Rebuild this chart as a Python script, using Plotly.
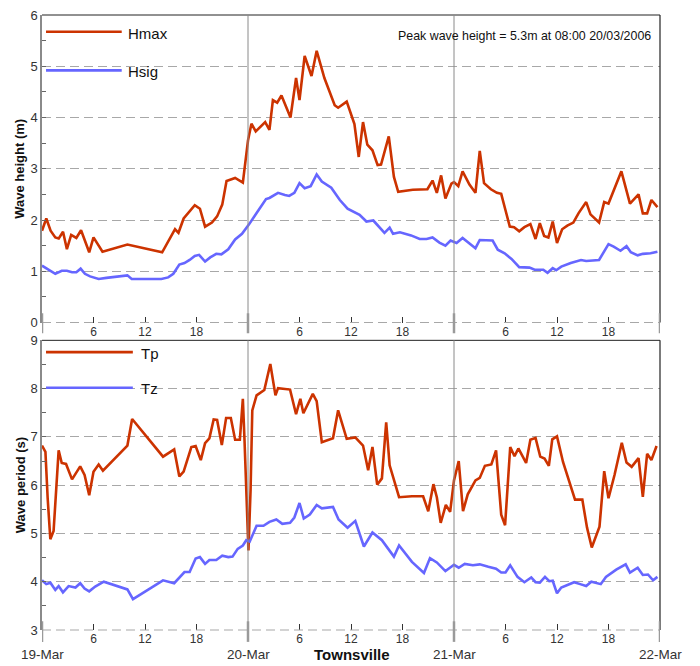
import pandas as pd
import plotly.graph_objects as go
from plotly.subplots import make_subplots

# ---------------- data (hours since 19-Mar-2006 00:00) ----------------
hmax_hours = [0.0, 0.5, 1.0, 1.55, 1.95, 2.45, 2.9, 3.4, 4.0, 4.55, 5.5, 6.0, 7.05, 9.95, 14.0,
              15.5, 15.9, 16.5, 17.8, 18.4, 19.0, 19.8, 20.4, 21.0, 21.5, 22.5, 23.4, 24.0, 24.4,
              24.9, 26.0, 26.5, 26.9, 27.4, 27.9, 28.95, 29.6, 30.0, 30.6, 31.4, 32.0, 32.9, 34.1,
              34.5, 35.5, 36.4, 36.9, 37.4, 37.9, 38.5, 39.1, 39.5, 40.4, 41.0, 41.5, 43.2, 44.9,
              45.5, 46.0, 46.5, 47.0, 47.7, 48.0, 48.5, 49.0, 49.8, 50.5, 51.0, 51.5, 52.3, 53.0,
              53.5, 54.0, 54.5, 55.0, 55.6, 56.2, 56.9, 57.5, 58.0, 58.5, 59.0, 59.5, 60.0, 60.6,
              61.2, 61.9, 62.5, 63.4, 63.9, 64.9, 65.5, 66.0, 67.5, 68.5, 69.5, 70.0, 70.5, 71.0, 71.7]
hmax_values = [1.79, 2.03, 1.79, 1.66, 1.64, 1.77, 1.43, 1.71, 1.65, 1.80, 1.37, 1.66, 1.38, 1.52, 1.37,
               1.82, 1.75, 2.03, 2.29, 2.22, 1.87, 1.95, 2.07, 2.30, 2.76, 2.82, 2.73, 3.55, 3.88,
               3.73, 3.91, 3.76, 4.34, 4.29, 4.43, 4.00, 4.77, 4.34, 5.20, 4.81, 5.30, 4.77, 4.24,
               4.19, 4.31, 3.87, 3.23, 3.91, 3.47, 3.36, 3.07, 3.08, 3.63, 2.84, 2.55, 2.59, 2.60,
               2.77, 2.53, 2.87, 2.42, 2.71, 2.74, 2.66, 2.95, 2.69, 2.53, 3.35, 2.72, 2.60, 2.53,
               2.51, 2.19, 1.87, 1.86, 1.78, 1.86, 1.92, 1.63, 1.94, 1.69, 1.66, 1.97, 1.55, 1.82,
               1.89, 1.95, 2.13, 2.35, 2.11, 1.95, 2.35, 2.32, 2.95, 2.32, 2.50, 2.13, 2.13, 2.39, 2.25]

hsig_hours = [0.0, 0.6, 1.55, 2.3, 2.9, 3.5, 4.0, 4.5, 5.0, 5.6, 6.6, 7.5, 9.95, 10.45, 13.9, 14.7,
              15.3, 16.0, 16.6, 17.2, 17.8, 18.3, 19.0, 19.6, 20.3, 20.9, 21.7, 22.5, 23.3, 24.1,
              25.0, 26.1, 26.5, 27.5, 28.3, 28.8, 29.4, 30.0, 30.6, 31.3, 32.0, 32.6, 33.7, 34.7,
              35.6, 37.0, 37.8, 38.6, 39.9, 40.5, 40.9, 41.7, 43.0, 44.0, 44.8, 45.5, 46.3, 47.0,
              47.6, 48.3, 49.0, 49.7, 50.5, 51.0, 52.5, 53.1, 53.9, 54.7, 55.6, 56.8, 57.4, 58.4,
              58.9, 59.5, 59.9, 60.5, 61.6, 62.8, 63.4, 64.9, 66.0, 66.6, 67.4, 68.1, 68.6, 69.4,
              70.0, 70.9, 71.7]
hsig_values = [1.11, 1.05, 0.95, 1.01, 1.01, 0.98, 0.98, 1.05, 0.95, 0.90, 0.85, 0.87, 0.92, 0.85, 0.85, 0.88,
               0.95, 1.13, 1.16, 1.22, 1.30, 1.32, 1.19, 1.27, 1.34, 1.33, 1.43, 1.62, 1.73, 1.91,
               2.14, 2.41, 2.43, 2.53, 2.49, 2.47, 2.53, 2.72, 2.62, 2.66, 2.89, 2.75, 2.63, 2.39,
               2.22, 2.10, 1.97, 1.99, 1.75, 1.85, 1.73, 1.76, 1.70, 1.63, 1.63, 1.66, 1.56, 1.50,
               1.60, 1.55, 1.65, 1.55, 1.45, 1.61, 1.60, 1.42, 1.35, 1.24, 1.08, 1.07, 1.03, 1.03,
               0.97, 1.06, 1.02, 1.09, 1.16, 1.22, 1.20, 1.22, 1.53, 1.48, 1.40, 1.49, 1.37, 1.31,
               1.34, 1.35, 1.38]

tp_hours = [0.0, 0.4, 0.66, 0.97, 1.35, 1.67, 1.94, 2.3, 2.8, 3.5, 4.45, 4.96, 5.5, 6.0, 6.6, 7.1,
            9.95, 10.5, 14.1, 15.4, 16.0, 16.5, 17.4, 17.9, 18.5, 19.0, 19.5, 20.0, 20.4, 20.95,
            21.45, 22.0, 22.5, 23.05, 23.4, 23.6, 23.85, 24.05, 24.3, 24.5, 25.0, 25.9, 26.6, 27.2,
            27.5, 28.9, 29.6, 30.1, 30.45, 31.55, 32.0, 32.6, 33.9, 34.5, 35.5, 36.5, 37.4, 38.0,
            38.5, 39.05, 39.6, 40.1, 40.5, 41.6, 43.1, 44.4, 45.0, 45.6, 46.0, 46.45, 47.05, 47.55,
            48.0, 48.55, 49.05, 49.6, 50.5, 51.0, 51.6, 52.35, 52.9, 53.5, 53.95, 54.55, 55.05,
            55.5, 56.4, 56.9, 57.5, 58.05, 58.55, 59.05, 59.45, 60.0, 60.7, 61.4, 62.1, 62.95,
            63.5, 64.05, 64.95, 65.5, 66.0, 66.7, 67.55, 68.1, 68.7, 69.5, 70.0, 70.5, 71.0, 71.6]
tp_values = [6.82, 6.69, 5.73, 4.88, 5.05, 6.07, 6.72, 6.46, 6.44, 6.12, 6.39, 6.21, 5.79, 6.28, 6.43, 6.30,
             6.82, 7.37, 6.59, 6.74, 6.18, 6.28, 6.79, 6.81, 6.52, 6.87, 6.97, 7.36, 7.35, 6.83,
             7.39, 7.39, 6.94, 6.94, 7.79, 6.90, 5.65, 4.65, 5.90, 7.55, 7.86, 7.97, 8.51, 7.86,
             8.01, 7.98, 7.47, 7.79, 7.49, 7.89, 7.74, 6.89, 6.97, 7.55, 6.96, 6.99, 6.82, 6.31,
             6.79, 6.01, 6.14, 7.30, 6.41, 5.75, 5.77, 5.77, 5.46, 6.02, 5.75, 5.22, 5.59, 5.45,
             6.10, 6.50, 5.46, 5.81, 6.10, 6.15, 6.40, 6.43, 6.72, 5.39, 5.17, 6.79, 6.60,
             6.76, 6.46, 6.94, 6.98, 6.59, 6.55, 6.40, 6.95, 7.01, 6.48, 6.07, 5.70, 5.70,
             5.12, 4.71, 5.14, 6.29, 5.73, 6.21, 6.88, 6.47, 6.38, 6.56, 5.76, 6.65, 6.52, 6.81]

tz_hours = [0.0, 0.5, 0.97, 1.55, 1.94, 2.44, 3.1, 3.9, 4.45, 4.96, 5.5, 6.2, 7.2, 9.95, 10.6, 14.1,
            15.4, 16.6, 17.2, 17.9, 18.4, 19.0, 19.5, 20.3, 21.0, 21.7, 22.2, 22.8, 23.4, 23.8,
            24.2, 25.0, 25.8, 26.5, 27.3, 28.0, 28.9, 29.4, 30.0, 30.5, 31.2, 32.0, 32.6, 33.9,
            34.55, 35.6, 36.5, 37.5, 38.5, 39.6, 41.0, 41.6, 43.1, 44.5, 45.2, 46.0, 47.0, 48.0,
            48.55, 49.25, 50.2, 51.0, 52.0, 52.9, 53.5, 54.0, 54.55, 55.4, 56.2, 57.0, 57.5, 58.0,
            58.6, 59.1, 59.5, 60.0, 60.5, 61.3, 62.0, 62.7, 63.4, 64.0, 64.5, 65.1, 65.7, 66.9,
            68.0, 68.5, 69.4, 70.0, 70.6, 71.2, 71.7]
tz_values = [4.03, 3.95, 3.98, 3.83, 3.91, 3.78, 3.91, 3.88, 3.97, 3.86, 3.80, 3.90, 4.00, 3.84, 3.64, 4.03,
             3.97, 4.20, 4.20, 4.48, 4.51, 4.37, 4.45, 4.45, 4.54, 4.51, 4.52, 4.68, 4.75, 4.86,
             4.83, 5.16, 5.16, 5.24, 5.29, 5.20, 5.22, 5.33, 5.63, 5.31, 5.39, 5.59, 5.52, 5.55,
             5.29, 5.12, 5.26, 4.73, 5.02, 4.86, 4.52, 4.75, 4.41, 4.18, 4.49, 4.40, 4.22, 4.35,
             4.29, 4.37, 4.34, 4.36, 4.31, 4.27, 4.19, 4.19, 4.34, 4.10, 3.99, 4.09, 3.99, 3.98,
             4.10, 4.01, 4.02, 3.76, 3.88, 3.93, 3.99, 3.95, 3.91, 4.00, 3.98, 3.95, 4.10, 4.25,
             4.36, 4.19, 4.29, 4.14, 4.15, 4.03, 4.10]

start_date = "2006-03-19"
day_labels = ["19-Mar", "20-Mar", "21-Mar", "22-Mar"]
hour_ticks = [6, 12, 18]
peak_text = "Peak wave height = 5.3m at 08:00 20/03/2006"

# ---------------- styling ----------------
RED = "#CC3300"
BLUE = "#6666FF"
NARROW = "Liberation Sans Narrow, Arial Narrow, Liberation Sans, Arial, sans-serif"
ARIAL = "Liberation Sans, Arial, sans-serif"
GRID = "#a8a8a8"
TOP_DOMAIN = [0.5, 1.0]
BOTTOM_DOMAIN = [0.0, 0.471]

base = pd.Timestamp(start_date)


def to_time(hours):
    return base + pd.to_timedelta(hours, unit="h")


days = [base + pd.Timedelta(days=i) for i in range(len(day_labels))]
tickvals, ticktext = [], []
for d in days[:-1]:
    for h in hour_ticks:
        tickvals.append(d + pd.Timedelta(hours=h))
        ticktext.append(str(h))

fig = make_subplots(rows=2, cols=1, vertical_spacing=0.029)

fig.add_trace(go.Scatter(x=to_time(hmax_hours), y=hmax_values, mode="lines", name="Hmax",
                         line=dict(color=RED, width=2.6)), row=1, col=1)
fig.add_trace(go.Scatter(x=to_time(hsig_hours), y=hsig_values, mode="lines", name="Hsig",
                         line=dict(color=BLUE, width=2.6)), row=1, col=1)
fig.add_trace(go.Scatter(x=to_time(tp_hours), y=tp_values, mode="lines", name="Tp",
                         line=dict(color=RED, width=2.6)), row=2, col=1)
fig.add_trace(go.Scatter(x=to_time(tz_hours), y=tz_values, mode="lines", name="Tz",
                         line=dict(color=BLUE, width=2.6)), row=2, col=1)

xcommon = dict(range=[days[0], days[-1]], tickmode="array", tickvals=tickvals, ticktext=ticktext,
               ticks="inside", ticklen=6, tickcolor="#333", showgrid=False, showline=False,
               zeroline=False, tickfont=dict(family=NARROW, size=12, color="#333"))
ycommon = dict(dtick=1, ticks="inside", ticklen=4, tickcolor="#666", showgrid=True,
               gridcolor=GRID, griddash="9px,5px", gridwidth=1, zeroline=False,
               showline=True, linecolor="#8a8a8a", linewidth=1.5,
               tickfont=dict(family=NARROW, size=13, color="#333"),
               minor=dict(dtick=0.5, ticks="inside", ticklen=4, tickcolor="#666", showgrid=False))

fig.update_xaxes(**xcommon)
fig.update_yaxes(**ycommon)
fig.update_yaxes(range=[0, 6], row=1, col=1)
fig.update_yaxes(range=[3, 9], row=2, col=1)
fig.update_layout(yaxis=dict(domain=TOP_DOMAIN), yaxis2=dict(domain=BOTTOM_DOMAIN))

shapes = []
for xr, yr, dom in (("x", "y", TOP_DOMAIN), ("x2", "y2", BOTTOM_DOMAIN)):
    ydom = yr + " domain"
    # dashed baseline grid (bottom edge) and frame, in paper coords (unclipped)
    shapes.append(dict(type="line", xref="paper", yref="paper", x0=0, x1=1, y0=dom[0], y1=dom[0],
                       line=dict(color=GRID, width=1.2, dash="9px,5px")))
    shapes.append(dict(type="line", xref="paper", yref="paper", x0=0, x1=1, y0=dom[1], y1=dom[1],
                       line=dict(color="#222", width=1)))
    shapes.append(dict(type="line", xref="paper", yref="paper", x0=1, x1=1, y0=dom[0], y1=dom[1],
                       line=dict(color="#222", width=1.2)))
    # day boundary lines
    for d in days[1:-1]:
        shapes.append(dict(type="line", xref=xr, yref=ydom, x0=d, x1=d, y0=0, y1=1,
                           line=dict(color="#8a8a8a", width=1)))
    low = -0.035 if yr == "y" else -0.041
    for d in days:
        shapes.append(dict(type="line", xref=xr, yref=ydom, x0=d, x1=d, y0=low, y1=0.03,
                           line=dict(color="#9a9a9a", width=2.5)))

# custom legend lines
legend_items = [("Hmax", RED, 0.9727, 0.129, 0.1355), ("Hsig", BLUE, 0.91, 0.129, 0.1355),
                ("Tp", RED, 0.4518, 0.147, 0.1566), ("Tz", BLUE, 0.394, 0.147, 0.1566)]
annotations = []
for name, col, ypos, xend, xtext in legend_items:
    shapes.append(dict(type="line", xref="paper", yref="paper", x0=0.0065, x1=xend, y0=ypos, y1=ypos,
                       line=dict(color=col, width=2.6)))
    annotations.append(dict(text=name, xref="paper", yref="paper", x=xtext, y=ypos - 0.002,
                            xanchor="left", yanchor="middle", showarrow=False,
                            font=dict(family=NARROW, size=15, color="#111")))

annotations.append(dict(text=peak_text, xref="paper", yref="paper", x=0.9887, y=0.9662,
                        xanchor="right", yanchor="middle", showarrow=False,
                        font=dict(family=ARIAL, size=12.4, color="#111")))
annotations.append(dict(text="<b>Wave height (m)</b>", xref="paper", yref="paper", x=-0.0356,
                        y=0.75, textangle=-90, xanchor="center", yanchor="middle", showarrow=False,
                        font=dict(family=ARIAL, size=13, color="#111")))
annotations.append(dict(text="<b>Wave period (s)</b>", xref="paper", yref="paper", x=-0.0356,
                        y=0.2355, textangle=-90, xanchor="center", yanchor="middle", showarrow=False,
                        font=dict(family=ARIAL, size=13, color="#111")))
for d, lab in zip(days, day_labels):
    annotations.append(dict(text=lab, xref="x2", yref="paper", x=d, y=-0.0402, xanchor="center",
                            yanchor="middle", showarrow=False,
                            font=dict(family=NARROW, size=13.5, color="#333")))
annotations.append(dict(text="<b>Townsville</b>", xref="paper", yref="paper", x=0.5016, y=-0.0402,
                        xanchor="center", yanchor="middle", showarrow=False,
                        font=dict(family=ARIAL, size=15, color="#111")))

fig.update_layout(width=700, height=666, margin=dict(l=42, r=40, t=8, b=36),
                  plot_bgcolor="white", paper_bgcolor="white", showlegend=False,
                  shapes=shapes, annotations=annotations)

fig.write_html("out.html")
